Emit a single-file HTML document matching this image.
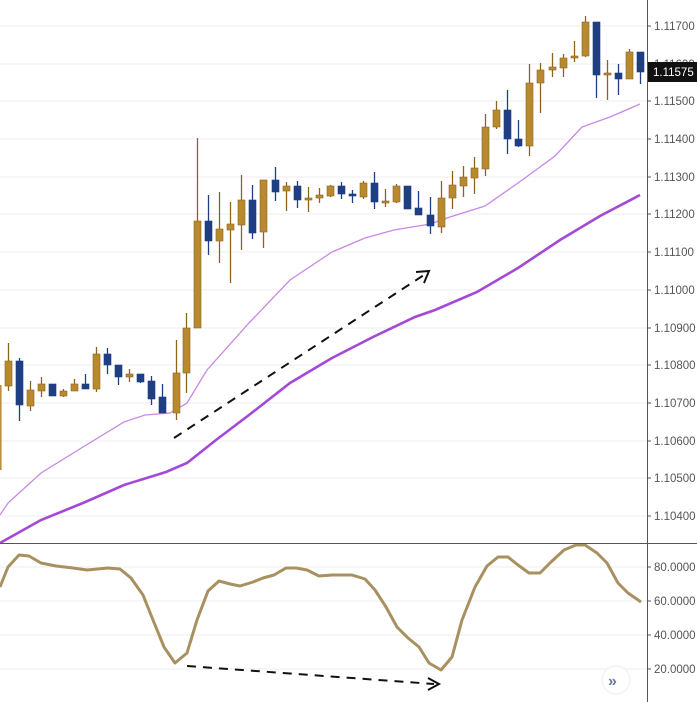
<!DOCTYPE html>
<html><head><meta charset="utf-8"><style>
html,body{margin:0;padding:0;background:#fff;}
svg{display:block;font-family:"Liberation Sans",sans-serif;}
</style></head><body>
<svg width="697" height="702" viewBox="0 0 697 702" xmlns="http://www.w3.org/2000/svg">
<rect width="697" height="702" fill="#fff"/>
<g stroke="#eeeeee" stroke-width="1">
<line x1="0" y1="26" x2="647" y2="26"/><line x1="0" y1="64" x2="647" y2="64"/><line x1="0" y1="101" x2="647" y2="101"/><line x1="0" y1="139" x2="647" y2="139"/><line x1="0" y1="177" x2="647" y2="177"/><line x1="0" y1="214" x2="647" y2="214"/><line x1="0" y1="252" x2="647" y2="252"/><line x1="0" y1="290" x2="647" y2="290"/><line x1="0" y1="328" x2="647" y2="328"/><line x1="0" y1="365" x2="647" y2="365"/><line x1="0" y1="403" x2="647" y2="403"/><line x1="0" y1="441" x2="647" y2="441"/><line x1="0" y1="478" x2="647" y2="478"/><line x1="0" y1="516" x2="647" y2="516"/>
<line x1="0" y1="567" x2="647" y2="567"/><line x1="0" y1="601" x2="647" y2="601"/><line x1="0" y1="635" x2="647" y2="635"/><line x1="0" y1="669" x2="647" y2="669"/>
</g>
<!-- MAs -->
<polyline fill="none" stroke="#c988e4" stroke-width="1.3" points="0,515 8,503 41,473 83,447 124,422 145,415 170,413 187,403 207,370 249,323 290,280 332,252 365,238 394,230 430,224 450,217 485,206 518,183 555,156 582,127 610,117 640,104"/>
<polyline fill="none" stroke="#a448d8" stroke-width="2.6" points="0,543 41,520 83,503 124,485 166,472 187,463 216,440 249,415 290,383 332,358 373,337 415,317 435,310 477,292 518,268 560,240 600,216 640,195"/>
<!-- candles -->
<g id="c"></g>
<line x1="0.8" y1="385" x2="0.8" y2="470" stroke="#b8892f" stroke-width="1.5"/>
<!-- arrows -->
<line x1="174" y1="438" x2="427" y2="273" stroke="#111" stroke-width="2" stroke-dasharray="9,7"/>
<polyline points="416,272 429,271 424,283" fill="none" stroke="#111" stroke-width="2"/>
<polyline fill="none" stroke="#a89060" stroke-width="3" stroke-linejoin="round" points="0,587 8,567 19,555 29,556 41,563 56,566 73,568 87,570 108,568 120,569 131,578 143,595 153,620 164,647 175,663 187,653 197,620 208,591 219,581 230,584 240,586 253,582 263,578 274,575 286,568 296,568 307,570 319,576 332,575 352,575 365,579 375,590 386,607 397,627 408,638 419,647 429,663 441,670 452,657 462,620 475,587 487,566 498,557 508,557 518,565 529,573 540,573 551,562 564,550 576,545 585,545 597,553 607,563 618,583 628,593 641,602"/>
<line x1="187" y1="666" x2="434" y2="684" stroke="#111" stroke-width="2" stroke-dasharray="9,7"/>
<polyline points="428,678 439,684 428,690" fill="none" stroke="#111" stroke-width="2"/>
<!-- axes -->
<line x1="0" y1="543.5" x2="697" y2="543.5" stroke="#555" stroke-width="1"/>
<line x1="647.5" y1="0" x2="647.5" y2="702" stroke="#555" stroke-width="1"/>
<g stroke="#555"><line x1="647" y1="26" x2="651" y2="26"/><line x1="647" y1="64" x2="651" y2="64"/><line x1="647" y1="101" x2="651" y2="101"/><line x1="647" y1="139" x2="651" y2="139"/><line x1="647" y1="177" x2="651" y2="177"/><line x1="647" y1="214" x2="651" y2="214"/><line x1="647" y1="252" x2="651" y2="252"/><line x1="647" y1="290" x2="651" y2="290"/><line x1="647" y1="328" x2="651" y2="328"/><line x1="647" y1="365" x2="651" y2="365"/><line x1="647" y1="403" x2="651" y2="403"/><line x1="647" y1="441" x2="651" y2="441"/><line x1="647" y1="478" x2="651" y2="478"/><line x1="647" y1="516" x2="651" y2="516"/><line x1="647" y1="567" x2="651" y2="567"/><line x1="647" y1="601" x2="651" y2="601"/><line x1="647" y1="635" x2="651" y2="635"/><line x1="647" y1="669" x2="651" y2="669"/></g>
<g fill="#555" font-size="11.5">
<text x="654" y="30">1.11700</text><text x="654" y="68">1.11600</text><text x="654" y="105">1.11500</text><text x="654" y="143">1.11400</text><text x="654" y="181">1.11300</text><text x="654" y="218">1.11200</text><text x="654" y="256">1.11100</text><text x="654" y="294">1.11000</text><text x="654" y="332">1.10900</text><text x="654" y="369">1.10800</text><text x="654" y="407">1.10700</text><text x="654" y="445">1.10600</text><text x="654" y="482">1.10500</text><text x="654" y="520">1.10400</text>
<text x="654" y="571">80.0000</text><text x="654" y="605">60.0000</text><text x="654" y="639">40.0000</text><text x="654" y="673">20.0000</text>
</g>
<rect x="648" y="62" width="49" height="20" fill="#111"/>
<text x="653" y="76" fill="#fff" font-size="11.5">1.11575</text>
<circle cx="616" cy="680" r="14" fill="#fff" stroke="#eee" stroke-width="1"/>
<text x="608" y="686" fill="#6a7aa0" font-size="16" font-weight="bold">»</text>
</svg>
<script>
var d=[[8,361,386,343,391,'g'],[19,361,405,358,421,'b'],[30,390,406,381,411,'g'],[41,384,391,377,397,'g'],[52,384,396,384,396,'b'],[63,391,396,389,397,'g'],[74,384,391,379,391,'g'],[85,384,389,374,389,'b'],[96,354,389,347,392,'g'],[107,354,365,348,374,'b'],[118,365,377,365,385,'b'],[129,374,377,369,382,'g'],[140,374,382,374,383,'b'],[151,381,399,376,405,'b'],[162,397,413,384,413,'b'],[176,373,413,340,420,'g'],[186,328,373,313,393,'g'],[197,221,328,138,328,'g'],[208,221,241,195,255,'b'],[219,229,241,192,263,'g'],[230,224,230,202,283,'g'],[241,200,225,175,250,'g'],[252,200,233,185,239,'b'],[263,180,232,180,248,'g'],[275,180,192,167,201,'b'],[286,186,191,182,211,'g'],[297,186,200,181,208,'b'],[308,198,200,187,212,'g'],[319,195,198,188,203,'g'],[330,186,196,185,197,'g'],[341,186,194,182,199,'b'],[352,194,196,190,203,'b'],[363,183,197,181,199,'g'],[374,183,202,172,209,'b'],[385,201,202,189,207,'g'],[396,186,202,184,203,'g'],[407,186,209,186,209,'b'],[418,208,215,191,215,'b'],[430,215,226,197,234,'b'],[441,198,227,181,233,'g'],[452,185,198,171,209,'g'],[463,177,186,166,197,'g'],[474,168,178,157,194,'g'],[485,127,169,114,176,'g'],[496,110,127,101,129,'g'],[507,110,139,90,154,'b'],[518,139,146,120,147,'b'],[529,83,146,64,156,'g'],[540,70,83,63,113,'g'],[552,67,70,53,77,'g'],[563,58,68,54,77,'g'],[574,56,58,41,62,'g'],[585,22,56,16,57,'g'],[596,22,75,22,98,'b'],[607,73,75,60,100,'g'],[618,73,79,64,95,'b'],[629,52,79,49,79,'g'],[640,52,72,52,84,'b']];
var s='';d.forEach(function(c){var col=c[5]=='g'?'#b8892f':'#1f3f82';var st=c[5]=='g'?'#8a6520':'#1f3f82';
s+='<line x1="'+(c[0]+0.5)+'" y1="'+c[3]+'" x2="'+(c[0]+0.5)+'" y2="'+c[4]+'" stroke="'+st+'" stroke-width="1.3"/>';
var h=Math.max(c[2]-c[1],2);s+='<rect x="'+(c[0]-3)+'" y="'+c[1]+'" width="7" height="'+h+'" fill="'+col+'" stroke="'+st+'" stroke-width="0.6"/>';});
document.getElementById('c').innerHTML=s;
</script>
</body></html>
